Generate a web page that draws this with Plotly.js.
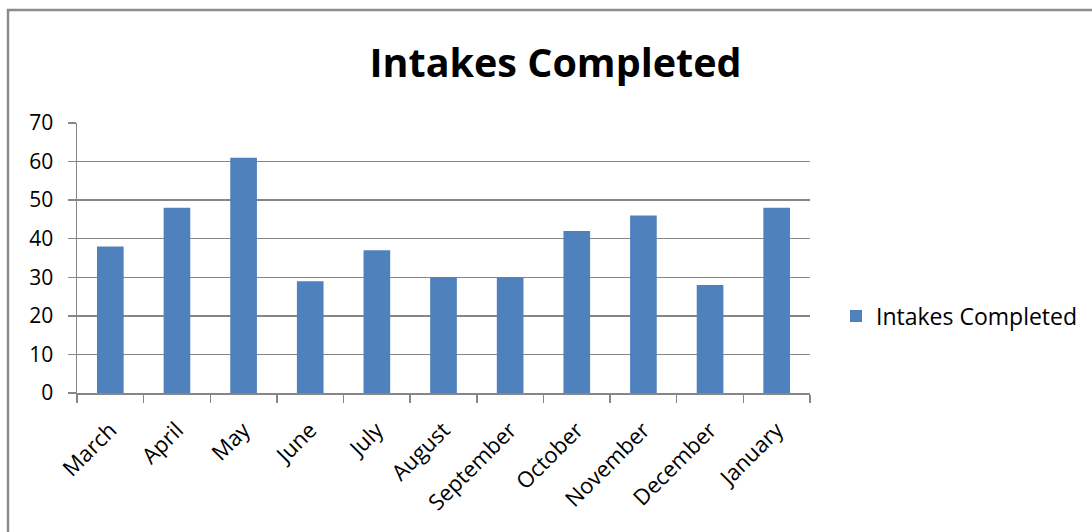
<!DOCTYPE html>
<html>
<head>
<meta charset="utf-8">
<script src="https://cdn.plot.ly/plotly-3.0.1.min.js"></script>
<style>
html,body{margin:0;padding:0;background:#fff;}
#chart{width:1092px;height:532px;}
</style>
</head>
<body>
<div id="chart"></div>
<script>
var months = ["March","April","May","June","July","August","September","October","November","December","January"];
var intakes = [38, 48, 61, 29, 37, 30, 30, 42, 46, 28, 48];
var seriesName = "Intakes Completed";
var chartTitle = "Intakes Completed";
var yTicks = [0, 10, 20, 30, 40, 50, 60, 70];

var W = 1092, H = 532;
var m = {l: 77, r: 282, t: 123, b: 139, autoexpand: false};
var pw = W - m.l - m.r, ph = H - m.t - m.b;
function px2x(px){ return (px - m.l) / pw; }
function py2y(py){ return (H - m.b - py) / ph; }

var font = "'Open Sans', sans-serif";
var grey = "#868686";

var trace = {
  type: "bar",
  x: months,
  y: intakes,
  name: seriesName,
  marker: {color: "#4F81BD"},
  showlegend: true,
  hoverinfo: "x+y"
};

var layout = {
  width: W, height: H,
  margin: m,
  paper_bgcolor: "#fff",
  plot_bgcolor: "#fff",
  bargap: 0.6,
  font: {family: font, color: "#000", size: 22},
  title: {
    text: "<b>" + chartTitle + "</b>",
    font: {family: font, size: 39.5, color: "#000"},
    x: px2x(555.5), xref: "paper", xanchor: "center",
    y: 1 - 63 / H, yref: "container", yanchor: "middle"
  },
  xaxis: {
    type: "category",
    tickangle: -45,
    ticks: "outside",
    tickson: "boundaries",
    ticklen: 8,
    tickcolor: grey,
    tickwidth: 1.5,
    showline: true,
    linecolor: grey,
    linewidth: 1.5,
    showgrid: false,
    ticklabelstandoff: 14,
    tickfont: {family: font, size: 22, color: "#000"},
    fixedrange: true
  },
  yaxis: {
    range: [0, 70],
    tickvals: yTicks,
    ticks: "outside",
    ticklen: 8,
    tickcolor: grey,
    tickwidth: 1.5,
    showline: true,
    linecolor: grey,
    linewidth: 1.5,
    showgrid: true,
    gridcolor: grey,
    gridwidth: 1.5,
    zeroline: false,
    ticklabelstandoff: 10,
    tickfont: {family: font, size: 21, color: "#000"},
    fixedrange: true
  },
  legend: {
    x: px2x(836), xanchor: "left",
    y: py2y(316), yanchor: "middle",
    font: {family: font, size: 23, color: "#000"},
    bgcolor: "rgba(0,0,0,0)",
    itemwidth: 30
  },
  shapes: [{
    type: "rect", xref: "paper", yref: "paper",
    x0: px2x(8), x1: px2x(1100),
    y0: py2y(545), y1: py2y(10),
    line: {color: "#8c8c8c", width: 2.5},
    fillcolor: "rgba(0,0,0,0)",
    layer: "below"
  }]
};

Plotly.newPlot("chart", [trace], layout, {displayModeBar: false, staticPlot: true});
</script>
</body>
</html>
